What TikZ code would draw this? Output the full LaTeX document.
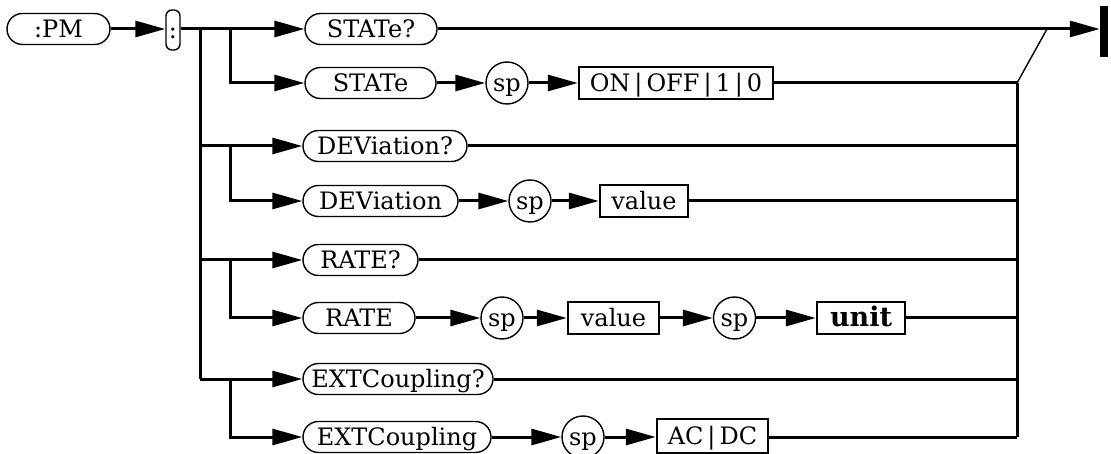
\documentclass[tikz,border=0pt]{standalone}
\usepackage{fontspec}
\setmainfont{DejaVu Serif}
\usetikzlibrary{arrows.meta}
\begin{document}
\begin{tikzpicture}[x=1pt,y=-1pt,
  ln/.style={line width=3pt},
  thinln/.style={line width=1.4pt},
  arr/.style={line width=3pt,-{Triangle[length=30pt,width=16pt]}},
  txt/.style={font=\fontsize{24}{24}\selectfont,text height=17.5pt,text depth=0pt,inner sep=0pt},
  kw/.style={txt,draw,line width=1.4pt,rounded corners=15.5pt,minimum height=31pt},
  spc/.style={txt,draw,circle,line width=1.4pt,minimum size=42pt},
  val/.style={txt,draw,line width=2.4pt,minimum height=32pt}]
\useasboundingbox (0,0) rectangle (1111,454);
% nodes
\node[kw,minimum width=103pt] (pm) at (58.5,29) {:PM};
\node[txt,draw,line width=1.4pt,rounded corners=6pt,minimum width=14pt,minimum height=40pt] (colon) at (173,30) {:};
\node[kw,minimum width=132pt] (r1) at (371,29) {STATe?};
\node[kw,minimum width=131pt] (r2) at (370.5,83) {STATe};
\node[spc] (sp1) at (507,83) {sp};
\node[val,minimum width=194pt] (b1) at (676,83) {ON\,|\,OFF\,|\,1\,|\,0};
\node[kw,minimum width=164pt] (r3) at (385,146) {DEViation?};
\node[kw,minimum width=155pt] (r4) at (380.5,201) {DEViation};
\node[spc] (sp2) at (530,201) {sp};
\node[val,minimum width=88pt] (b2) at (644,201) {value};
\node[kw,minimum width=115pt] (r5) at (360.5,260) {RATE?};
\node[kw,minimum width=112pt] (r6) at (359,318) {RATE};
\node[spc] (sp3) at (502,318) {sp};
\node[val,minimum width=91pt] (b3) at (613.5,318) {value};
\node[spc] (sp4) at (734.5,318) {sp};
\node[val,minimum width=88pt,font=\bfseries\fontsize{27}{27}\selectfont] (b4) at (861,318) {unit};
\node[kw,minimum width=190pt] (r7) at (398,379) {EXTCoupling?};
\node[kw,minimum width=188pt] (r8) at (397,437) {EXTCoupling};
\node[spc] (sp5) at (583,437) {sp};
\node[val,minimum width=111pt,minimum height=34pt] (b5) at (712.5,436) {AC\,|\,DC};
\node[fill,inner sep=0pt,minimum width=8pt,minimum height=51pt] (endbar) at (1104,31.5) {};
% junction coordinates
\coordinate (m1) at (200,29);
\coordinate (m3) at (200,146);
\coordinate (m5) at (200,260);
\coordinate (m7) at (200,379);
\coordinate (s1) at (230,29);
\coordinate (s3) at (230,146);
\coordinate (s5) at (230,260);
\coordinate (s7) at (230,379);
\coordinate (rt2) at (1017,83);
\coordinate (rt8) at (1017,437);
\coordinate (dg) at (1047,29);
% left side
\draw[arr] (pm.east) -- (colon.west |- pm.east);
\draw[arr] (colon.east |- r1.west) -- (r1.west);
\draw[ln] (m1) -- (m7);
\draw[arr] (s1) |- (r2.west);
\draw[arr] (m3) -- (r3.west);
\draw[arr] (s3) |- (r4.west);
\draw[arr] (m5) -- (r5.west);
\draw[arr] (s5) |- (r6.west);
\draw[arr] (m7) -- (r7.west);
\draw[arr] (s7) |- (r8.west);
% row chains
\draw[arr] (r2.east) -- (sp1.west);
\draw[arr] (sp1.east) -- (b1.west);
\draw[arr] (r4.east) -- (sp2.west);
\draw[arr] (sp2.east) -- (b2.west);
\draw[arr] (r6.east) -- (sp3.west);
\draw[arr] (sp3.east) -- (b3.west);
\draw[arr] (b3.east) -- (sp4.west);
\draw[arr] (sp4.east) -- (b4.west);
\draw[arr] (r8.east) -- (sp5.west);
\draw[arr] (sp5.east) -- (b5.west |- sp5.east);
% right side
\draw[arr] (r1.east) -- (r1.east -| endbar.west);
\draw[ln] (b1.east) -- (rt2);
\draw[thinln] (rt2) -- (dg);
\draw[ln] (rt2) -- (rt8);
\draw[ln] (r3.east) -- (r3.east -| rt2);
\draw[ln] (b2.east) -- (b2.east -| rt2);
\draw[ln] (r5.east) -- (r5.east -| rt2);
\draw[ln] (b4.east) -- (b4.east -| rt2);
\draw[ln] (r7.east) -- (r7.east -| rt2);
\draw[ln] (b5.east |- r8.east) -- (rt8);
\end{tikzpicture}
\end{document}
